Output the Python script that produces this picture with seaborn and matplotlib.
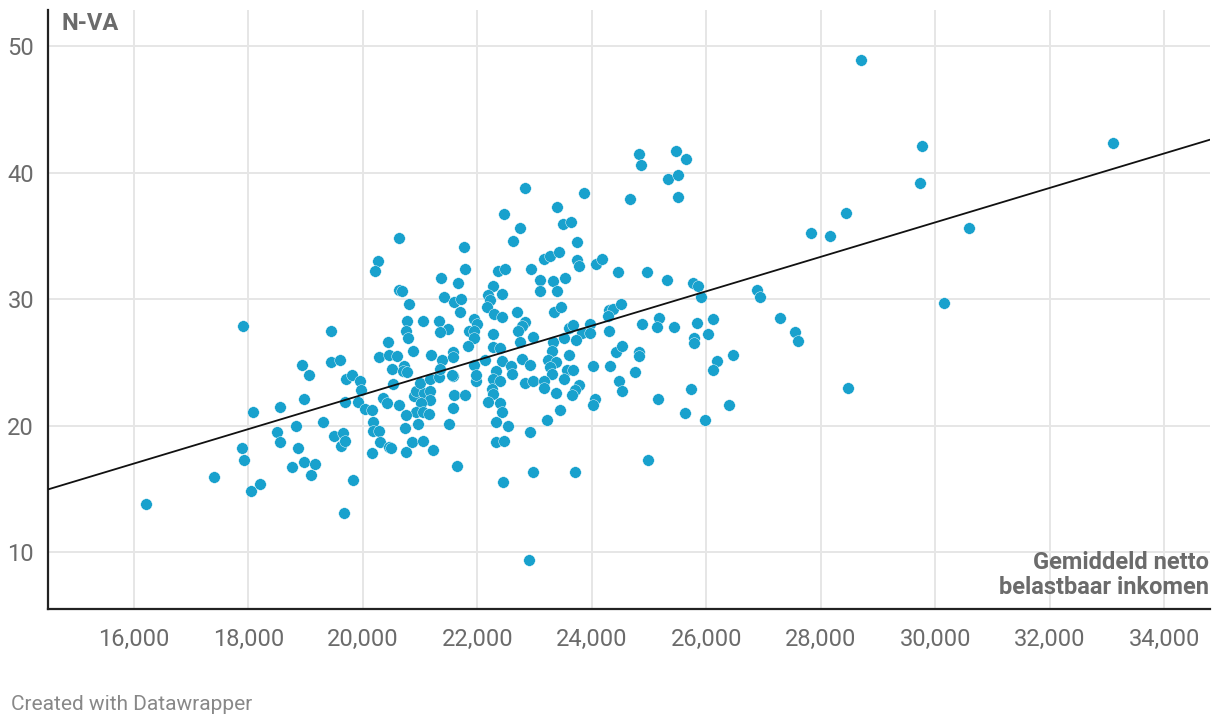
import pandas as pd
import seaborn as sns
import matplotlib.pyplot as plt
from matplotlib.ticker import FuncFormatter

# average net taxable income per municipality vs N-VA vote share
income = [
    16210, 17400, 17900, 17890, 17930, 18050, 18090, 18210, 18510, 18550,
    18560, 18770, 18830, 18870, 18940, 18980, 18980, 19060, 19090, 19170,
    19300, 19440, 19440, 19500, 19600, 19620, 19700, 19810, 19950, 19970,
    19660, 19690, 19690, 19920, 20030, 20160, 20360, 20430, 20630, 20900,
    20930, 21070, 21170, 21170, 21010, 20930, 21060, 21160, 20760, 21590,
    21790, 21580, 20170, 20170, 20290, 20960, 20730, 21500, 20300, 20450,
    20500, 20860, 21050, 20760, 21230, 20160, 21640, 19830, 19680, 20530,
    21000, 21170, 21340, 21580, 21970,
    20630, 21760, 20260, 20220, 21790, 21360, 21670, 20630, 20680, 21410,
    21590, 21710, 20800, 21690, 21050, 20770, 21330, 21940, 21990, 20760,
    21490, 21350, 21860, 21950, 20790, 21950, 20440, 21830, 20870, 21570,
    21190, 20290, 20450, 20600, 21390, 21570, 20510, 20720, 20700, 20780,
    21350, 21940, 21550, 21980,
    22830, 23870, 24660, 22470, 23400, 22740, 23490, 23630, 22630, 23750,
    23160, 23270, 23420, 23750, 23780, 24070, 24180, 22370, 22480, 22930,
    24450, 23090, 23320, 23540, 23090, 23400, 22270, 22430, 22190, 22230,
    22170, 22300, 22440, 22700, 23340, 23460, 22830, 22780, 24300, 24370,
    24290, 24510, 23600, 23680, 23970,
    22280, 22710, 22980, 23830, 23970, 24300, 22740, 23330, 23520, 23720,
    22280, 22400, 22140, 22430, 22590, 22790, 22920, 23310, 23600, 23230,
    23380, 23270, 23300, 23560, 23680, 23520, 24020, 24320, 24430, 24530,
    22320, 22270, 22400, 22600, 22830, 22980, 23170, 23170, 23370, 23770,
    23710, 23660, 24050, 24030, 24470, 24530, 22250, 22280, 22180, 22400,
    22440, 23450, 23210, 22320, 22530, 22920, 22320, 22470, 22970, 23710,
    22450, 22900,
    24820, 25480, 25640, 24860, 25330, 25510, 25500, 24970, 25320, 25770,
    25850, 25900, 26880, 26940,
    25180, 24870, 25140, 25440, 25840, 26110, 26030, 25780, 25780, 24820,
    24820, 26460, 26180, 26110, 24760, 25160, 25740, 25630, 25970, 26400,
    24990,
    28710, 29770, 29740, 33110, 28450, 27830, 28160, 30590, 27290, 27550,
    27600, 30160, 28480,
]
nva = [
    13.8, 15.9, 27.9, 18.2, 17.3, 14.8, 21.1, 15.4, 19.5, 21.5,
    18.7, 16.7, 20.0, 18.2, 24.8, 22.1, 17.1, 24.0, 16.1, 17.0,
    20.3, 27.5, 25.0, 19.2, 25.2, 18.4, 23.7, 24.0, 23.5, 22.8,
    19.4, 18.8, 21.9, 21.9, 21.3, 21.2, 22.2, 21.75, 21.6, 22.3,
    22.75, 22.55, 22.75, 22.0, 21.75, 21.1, 21.1, 20.9, 20.8, 22.4,
    22.4, 21.4, 20.25, 19.6, 19.6, 20.1, 19.8, 20.1, 18.7, 18.3,
    18.2, 18.7, 18.8, 17.9, 18.1, 17.8, 16.8, 15.7, 13.1, 23.3,
    23.4, 23.7, 23.8, 23.9, 23.5,
    34.8, 34.1, 33.0, 32.2, 32.4, 31.7, 31.3, 30.7, 30.6, 30.2,
    29.8, 30.0, 29.6, 29.0, 28.3, 28.3, 28.3, 28.4, 28.0, 27.5,
    27.6, 27.4, 27.5, 27.5, 26.9, 26.9, 26.6, 26.3, 25.9, 25.8,
    25.6, 25.4, 25.6, 25.5, 25.2, 25.4, 24.5, 24.7, 24.3, 24.2,
    24.5, 24.8, 24.0, 24.0,
    38.8, 38.4, 37.9, 36.7, 37.3, 35.6, 35.9, 36.1, 34.6, 34.5,
    33.2, 33.4, 33.7, 33.1, 32.6, 32.8, 33.2, 32.2, 32.4, 32.4,
    32.1, 31.5, 31.4, 31.7, 30.6, 30.6, 31.0, 30.4, 30.3, 29.9,
    29.4, 28.8, 28.6, 29.0, 29.0, 29.4, 28.2, 27.9, 29.1, 29.2,
    28.7, 29.6, 27.7, 27.95, 28.0,
    27.2, 27.5, 27.0, 27.3, 27.3, 27.5, 26.6, 26.6, 26.9, 26.8,
    26.2, 26.1, 25.2, 25.1, 24.7, 25.3, 24.8, 25.9, 25.6, 25.2,
    25.0, 24.6, 24.1, 24.4, 24.4, 23.7, 24.7, 24.7, 25.8, 26.3,
    24.3, 23.65, 23.5, 24.1, 23.4, 23.5, 23.5, 23.0, 22.6, 23.2,
    22.8, 22.4, 22.1, 21.6, 23.5, 22.7, 22.9, 22.5, 21.9, 21.8,
    21.1, 21.2, 20.4, 20.3, 20.0, 19.5, 18.7, 18.8, 16.3, 16.3,
    15.5, 9.4,
    41.5, 41.7, 41.1, 40.6, 39.5, 39.8, 38.1, 32.1, 31.5, 31.3,
    31.0, 30.2, 30.7, 30.2,
    28.5, 28.0, 27.8, 27.8, 28.1, 28.4, 27.2, 26.9, 26.5, 25.8,
    25.5, 25.6, 25.1, 24.4, 24.2, 22.1, 22.9, 21.0, 20.4, 21.6,
    17.3,
    48.9, 42.1, 39.2, 42.3, 36.8, 35.2, 35.0, 35.6, 28.5, 27.4,
    26.7, 29.7, 23.0,
]

# trend line end points
trend_x = [14500, 34800]
trend_y = [14.95, 42.6]

x_ticks = [16000, 18000, 20000, 22000, 24000, 26000, 28000, 30000, 32000, 34000]
y_ticks = [10, 20, 30, 40, 50]

df = pd.DataFrame({'income': income, 'nva': nva})

sns.set_style('white')
plt.rcParams['font.family'] = ['Roboto', 'DejaVu Sans']

fig = plt.figure(figsize=(12.2, 7.26), dpi=100)
ax = fig.add_axes([0.0393, 0.1612, 0.9525, 0.825])

sns.scatterplot(data=df, x='income', y='nva', ax=ax, color='#18a1cd', s=70,
                edgecolor='white', linewidth=0.3, zorder=3)
sns.lineplot(x=trend_x, y=trend_y, ax=ax, color='#111111', linewidth=1.3, zorder=4)

ax.set_xlim(14500, 34800)
ax.set_ylim(5.5, 52.85)
ax.set_xticks(x_ticks)
ax.set_yticks(y_ticks)
ax.xaxis.set_major_formatter(FuncFormatter(lambda v, p: f'{int(v):,}'))
ax.grid(True, color='#e6e6e6', linewidth=1.4, zorder=0)
ax.set_axisbelow(True)
ax.tick_params(axis='both', length=0, labelsize=17, labelcolor='#6b6b6b')
ax.tick_params(axis='x', pad=14)
ax.tick_params(axis='y', pad=10)
ax.set_xlabel('')
ax.set_ylabel('')

for side in ['top', 'right']:
    ax.spines[side].set_visible(False)
for side in ['left', 'bottom']:
    ax.spines[side].set_color('#222222')
    ax.spines[side].set_linewidth(1.6)

ax.text(0.012, 0.996, 'N-VA', transform=ax.transAxes, ha='left', va='top',
        fontsize=17, fontweight='bold', color='#6b6b6b')
ax.text(0.999, 0.016, 'Gemiddeld netto\nbelastbaar inkomen', transform=ax.transAxes,
        ha='right', va='bottom', fontsize=17, fontweight='bold', color='#6b6b6b',
        linespacing=1.15)

fig.text(0.009, 0.029, 'Created with Datawrapper', ha='left', va='center',
         fontsize=15, color='#888888')

plt.savefig('out.png', dpi=100)
plt.close()
